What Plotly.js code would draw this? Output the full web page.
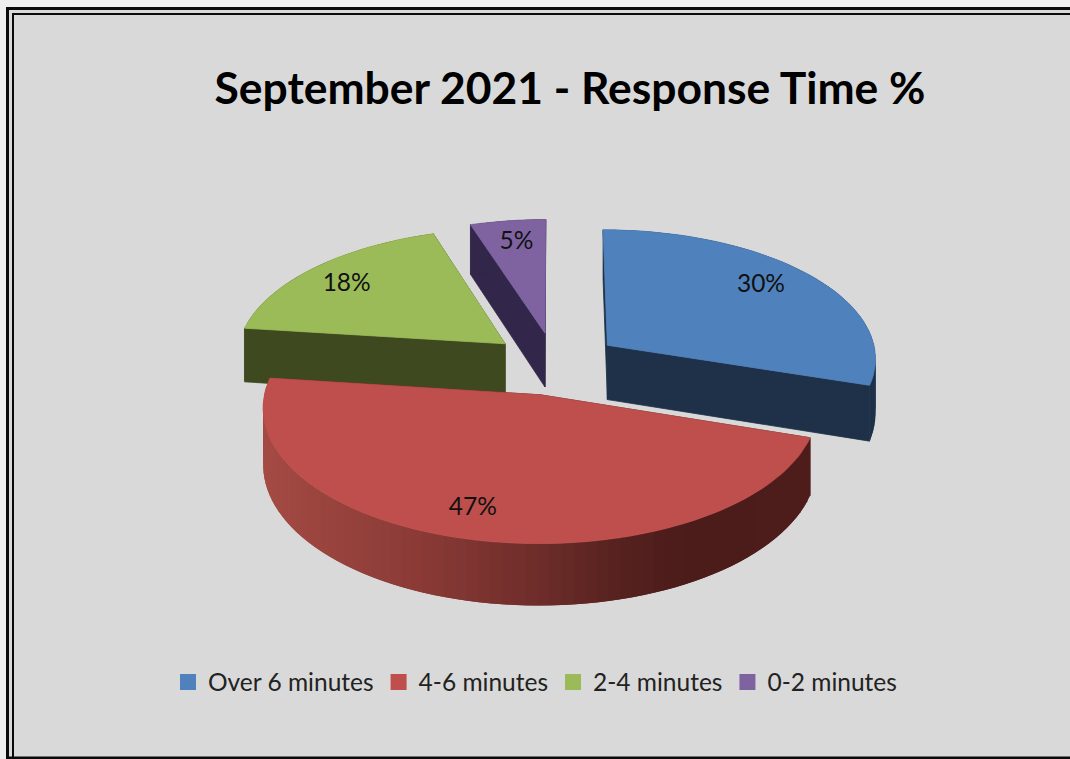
<!DOCTYPE html>
<html>
<head>
<meta charset="utf-8">
<script src="https://cdn.plot.ly/plotly-3.0.1.min.js"></script>
<style>html,body{margin:0;padding:0;background:#fff;overflow:hidden}#chart{width:1070px;height:759px}</style>
</head>
<body>
<div id="chart"></div>
<script>
// ---- data ----
const chartTitle = 'September 2021 - Response Time %';
const categories = ['Over 6 minutes', '4-6 minutes', '2-4 minutes', '0-2 minutes'];
const percents = [30, 47, 18, 5];

// ---- styles ----
const topColors = ['#4f81bd', '#be4f4c', '#9bbb59', '#7f63a1'];
const wallColors = ['#1e3149', '#4b1d1b', '#3f4920', '#32264a'];
const redWallStops = [[260, [165, 75, 68]], [420, [138, 58, 54]], [540, [110, 45, 42]], [620, [85, 33, 31]], [690, [75, 28, 26]], [820, [78, 29, 27]]];
const textFont = 'Lato, "Noto Sans", sans-serif';

// ---- projection of the tilted pie onto the axes (axes run in page pixels) ----
const cx = 555, cy = 363.5, radiusX = 270, radiusY = 129.2, persp = 0.091, explode = 0.243, depth = 55;
const labelRadius = 0.75;
const labelNudgeX = [0, -18, -13, 0], labelNudgeY = [-6, 8, -1, -4];

function project(u, v, drop) {
  const s = 1 / (1 - persp * v);
  return [cx + radiusX * u * s, cy + radiusY * v * s + (drop || 0) * s];
}
function planePoint(angle, r, offset) {
  return [offset[0] + r * Math.sin(angle), offset[1] - r * Math.cos(angle)];
}
function polygon(points, color, text, lineWidth) {
  return {
    type: 'scatter', mode: 'lines', fill: 'toself', fillcolor: color,
    x: points.map(p => p[0]), y: points.map(p => p[1]),
    line: { color: color, width: lineWidth === undefined ? 0.8 : lineWidth }, showlegend: false,
    hoverinfo: text ? 'text' : 'skip', text: text || undefined, hoveron: 'fills'
  };
}
function redShade(x) {
  for (let i = 1; i < redWallStops.length; i++) {
    const [x0, c0] = redWallStops[i - 1], [x1, c1] = redWallStops[i];
    if (x <= x1) {
      const t = Math.max(0, (x - x0) / (x1 - x0));
      return 'rgb(' + c0.map((c, k) => Math.round(c + (c1[k] - c) * t)).join(',') + ')';
    }
  }
  return 'rgb(78,29,27)';
}

const total = percents.reduce((a, b) => a + b, 0);
const slices = [];
let running = 0;
percents.forEach((value, i) => {
  const a0 = running / total * 2 * Math.PI;
  running += value;
  const a1 = running / total * 2 * Math.PI;
  const mid = (a0 + a1) / 2;
  slices.push({ i, value, a0, a1, mid, offset: [explode * Math.sin(mid), -explode * Math.cos(mid)] });
});

const traces = [];
// back to front: purple, green, blue, red
[3, 2, 0, 1].forEach(idx => {
  const sl = slices[idx];
  const apex = sl.offset;
  const steps = Math.max(8, Math.round(sl.value * 1.6));
  const rim = [];
  for (let k = 0; k <= steps; k++) rim.push(planePoint(sl.a0 + (sl.a1 - sl.a0) * k / steps, 1, sl.offset));
  const wall = wallColors[idx];
  // radial cut faces
  [rim[0], rim[steps]].forEach(p => {
    traces.push(polygon([project(apex[0], apex[1]), project(p[0], p[1]), project(p[0], p[1], depth), project(apex[0], apex[1], depth), project(apex[0], apex[1])], wall));
  });
  // outer wall, in short strips; each strip runs under the next so no seams show
  for (let k = 0; k < steps; k++) {
    const p = rim[k], q = rim[Math.min(k + 2, steps)], mid = rim[k + 1];
    const a = project(p[0], p[1]), m = project(mid[0], mid[1]), b = project(q[0], q[1]);
    const color = idx === 1 ? redShade((a[0] + m[0]) / 2) : wall;
    traces.push(polygon([a, m, b, project(q[0], q[1], depth), project(mid[0], mid[1], depth), project(p[0], p[1], depth), a], color, null, 0));
  }
  // top face
  const top = [project(apex[0], apex[1])].concat(rim.map(p => project(p[0], p[1])));
  top.push(top[0]);
  traces.push(polygon(top, topColors[idx], categories[idx] + ': ' + sl.value + '%'));
});

// percentage labels
const labelPos = slices.map(sl => {
  const p = planePoint(sl.mid, labelRadius, sl.offset);
  const q = project(p[0], p[1]);
  return [q[0] + labelNudgeX[sl.i], q[1] + labelNudgeY[sl.i]];
});
traces.push({
  type: 'scatter', mode: 'text', showlegend: false, hoverinfo: 'skip',
  x: labelPos.map(p => p[0]), y: labelPos.map(p => p[1]),
  text: percents.map(v => v + '%'), textposition: 'middle center',
  textfont: { family: textFont, size: 24.5, color: '#111' }
});

// legend entries
categories.forEach((name, i) => {
  traces.push({
    type: 'scatter', mode: 'markers', name, x: [null], y: [null],
    marker: { symbol: 'square', size: 16, color: topColors[i] }, hoverinfo: 'skip'
  });
});

const layout = {
  width: 1070, height: 759,
  margin: { l: 0, r: 0, t: 0, b: 0 },
  paper_bgcolor: '#eeeeee', plot_bgcolor: 'rgba(0,0,0,0)',
  title: {
    text: '<b>' + chartTitle + '</b>',
    x: 570 / 1070, xanchor: 'center', y: 1 - 88 / 759, yanchor: 'middle',
    font: { family: textFont, size: 44.4, color: '#000' }
  },
  xaxis: { range: [0, 1070], visible: false, fixedrange: true },
  yaxis: { range: [759, 0], visible: false, fixedrange: true },
  showlegend: true,
  legend: {
    orientation: 'h', x: 535 / 1070, xanchor: 'center', y: 1 - 682 / 759, yanchor: 'middle',
    bgcolor: 'rgba(0,0,0,0)', font: { family: textFont, size: 24.5, color: '#222' },
    itemclick: false, itemdoubleclick: false
  },
  shapes: [
    { type: 'rect', xref: 'x', yref: 'y', x0: 7.5, y0: 8.5, x1: 1080, y1: 758, layer: 'below', fillcolor: '#d9d9d9', line: { color: '#0a0a0a', width: 3 } },
    { type: 'rect', xref: 'x', yref: 'y', x0: 13, y0: 14, x1: 1080, y1: 790, layer: 'below', line: { color: '#0a0a0a', width: 2 } }
  ],
  hovermode: 'closest'
};
Plotly.newPlot('chart', traces, layout, { displayModeBar: false, responsive: false });
</script>
</body>
</html>
